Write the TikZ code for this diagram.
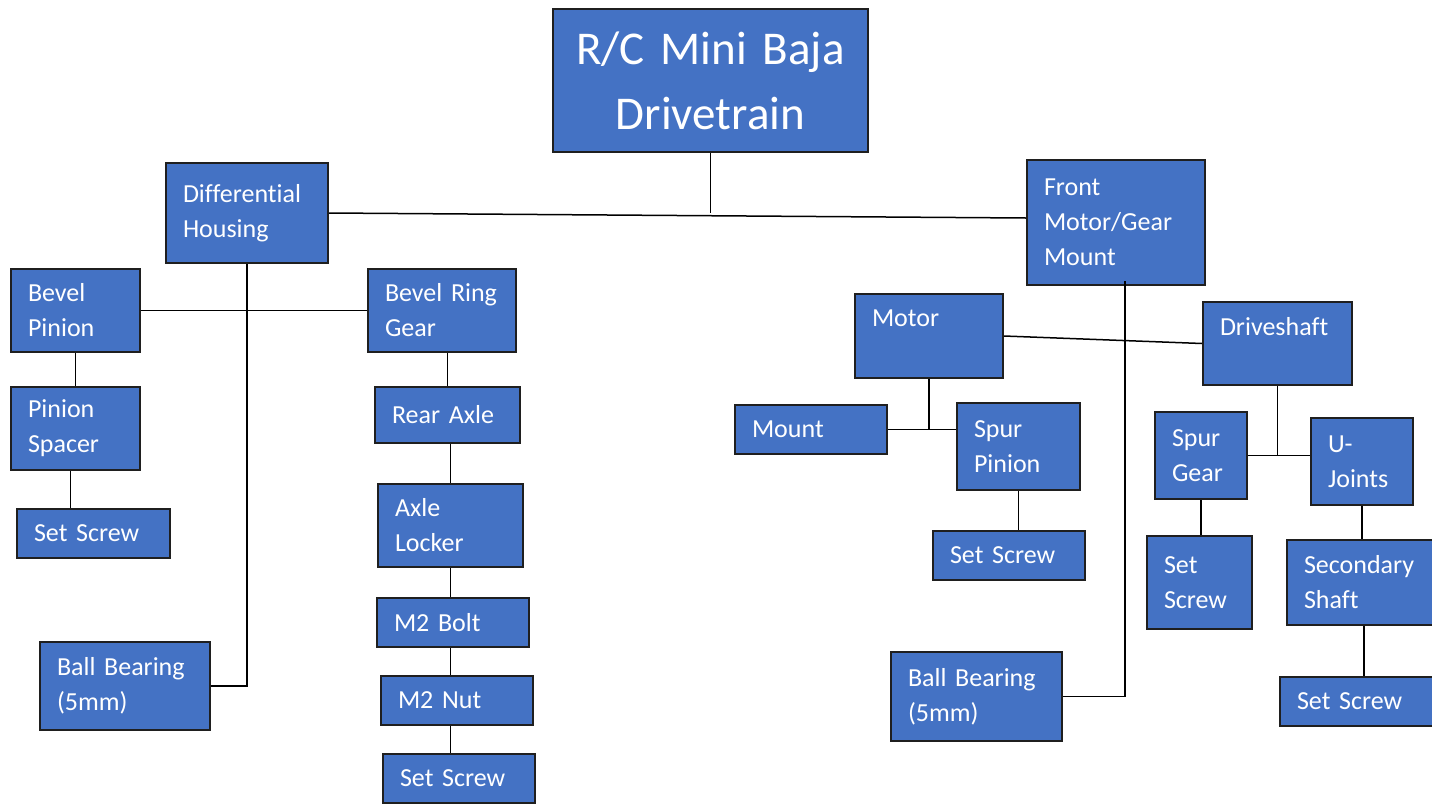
\documentclass[tikz,border=0pt]{standalone}
\usepackage{fontspec}
\setmainfont{Carlito}[Ligatures=NoCommon]
\usepackage{xcolor}
\definecolor{boxblue}{HTML}{4472C4}
\definecolor{boxline}{HTML}{1F1F1F}
\tikzset{
  box/.style={draw=boxline, fill=boxblue, line width=1pt, text=white, inner xsep=8.5pt, inner ysep=0pt, align=left, font=\fontsize{13}{17.5}\selectfont},
  link/.style={draw=black, line width=0.75pt},
}
\begin{document}
\begin{tikzpicture}[x=0.5pt, y=-0.5pt]
\useasboundingbox (0,0) rectangle (1432,804);
\clip (0,0) rectangle (1432,804);
% top level
\node[box, align=center, minimum width=157.5pt, minimum height=71.5pt, text width=140.5pt, font=\fontsize{23.5}{32.5}\selectfont] (title) at (710.5,80.5) {R/C Mini Baja\\Drivetrain};
\node[box, minimum width=81pt, minimum height=50pt, text width=64pt] (diff) at (247,213) {Differential\\Housing};
\node[box, minimum width=89pt, minimum height=62.5pt, text width=72pt] (front) at (1116,222.5) {Front\\Motor/Gear\\Mount};
% differential side
\node[box, minimum width=64.5pt, minimum height=41.5pt, text width=47.5pt] (bevp) at (75.5,310.5) {Bevel\\Pinion};
\node[box, minimum width=74pt, minimum height=41.5pt, text width=57pt] (ring) at (442,310.5) {Bevel Ring\\Gear};
\node[box, minimum width=64.5pt, minimum height=41.5pt, text width=47.5pt] (spacer) at (75.5,428.5) {Pinion\\Spacer};
\node[box, minimum width=76.5pt, minimum height=24.5pt, text width=59.5pt] (ssl) at (93.5,533.5) {Set Screw};
\node[box, minimum width=85pt, minimum height=44pt, text width=68pt] (bbl) at (125,686) {Ball Bearing\\(5mm)};
\node[box, minimum width=72.5pt, minimum height=28pt, text width=55.5pt] (axle) at (447.5,415) {Rear Axle};
\node[box, minimum width=72.5pt, minimum height=41.5pt, text width=55.5pt] (locker) at (450.5,525.5) {Axle\\Locker};
\node[box, minimum width=76pt, minimum height=24.5pt, text width=59pt] (bolt) at (453,622.5) {M2 Bolt};
\node[box, minimum width=76pt, minimum height=24.5pt, text width=59pt] (nut) at (457,700.5) {M2 Nut};
\node[box, minimum width=76pt, minimum height=24.5pt, text width=59pt] (ssm) at (459,778.5) {Set Screw};
% motor/gear mount side
\node[box, minimum width=74pt, minimum height=42pt, text width=57pt] (motor) at (929,336) {Motor\\~};
\node[box, minimum width=74.5pt, minimum height=41.5pt, text width=57.5pt] (drive) at (1277.5,343.5) {Driveshaft\\~};
\node[box, minimum width=76pt, minimum height=24.5pt, text width=59pt] (mount) at (811,429.5) {Mount};
\node[box, minimum width=61.5pt, minimum height=43.5pt, text width=44.5pt] (spurp) at (1018.5,446.5) {Spur\\Pinion};
\node[box, minimum width=76pt, minimum height=24.5pt, text width=59pt] (ssp) at (1009,555.5) {Set Screw};
\node[box, minimum width=85.5pt, minimum height=44.5pt, text width=68.5pt] (bbr) at (976.5,696.5) {Ball Bearing\\(5mm)};
\node[box, minimum width=46pt, minimum height=43.5pt, text width=29pt] (spurg) at (1201,455.5) {Spur\\Gear};
\node[box, minimum width=51pt, minimum height=43.5pt, text width=34pt] (ujoint) at (1362,461.5) {U-\\Joints};
\node[box, minimum width=52.5pt, minimum height=46.5pt, text width=35.5pt] (ssg) at (1199.5,582.5) {Set\\Screw};
\node[box, minimum width=77pt, minimum height=42.5pt, text width=60pt] (second) at (1364,582.5) {Secondary\\Shaft};
\node[box, minimum width=78pt, minimum height=24.5pt, text width=61pt] (ssr) at (1358,701.5) {Set Screw};
% connectors
\draw[link] (diff.east) -- ([yshift=-2.5pt]diff.east -| front.west);
\draw[link] (title.south) -- (title.south |- diff.east);
\draw[link] (diff.south) |- (bbl.east);
\draw[link] (bevp.east) -- (ring.west);
\draw[link] (bevp.south) -- (spacer.north);
\draw[link] ([xshift=-2.5pt]spacer.south) -- ([xshift=-2.5pt]spacer.south |- ssl.north);
\draw[link] (axle.north) -- (axle.north |- ring.south);
\draw[link] (locker.north) -- (locker.north |- axle.south);
\draw[link] (locker.south) -- (locker.south |- bolt.north);
\draw[link] (locker.south |- bolt.south) -- (locker.south |- nut.north);
\draw[link] (locker.south |- nut.south) -- (locker.south |- ssm.north);
\draw[link] ([xshift=4.5pt,yshift=2.5pt]front.south) |- (bbr.east);
\draw[link] (motor.east) -- (drive.west);
\draw[link] (mount.east) -- (mount.east -| spurp.west);
\draw[link] (motor.south) -- (motor.south |- mount.east);
\draw[link] (spurp.south) -- (spurp.south |- ssp.north);
\draw[link] (spurg.east) -- (spurg.east -| ujoint.west);
\draw[link] (drive.south) -- (drive.south |- spurg.east);
\draw[link] (spurg.south) -- (spurg.south |- ssg.north);
\draw[link] (ujoint.south) -- (ujoint.south |- second.north);
\draw[link] (second.south) -- (second.south |- ssr.north);
\end{tikzpicture}
\end{document}
